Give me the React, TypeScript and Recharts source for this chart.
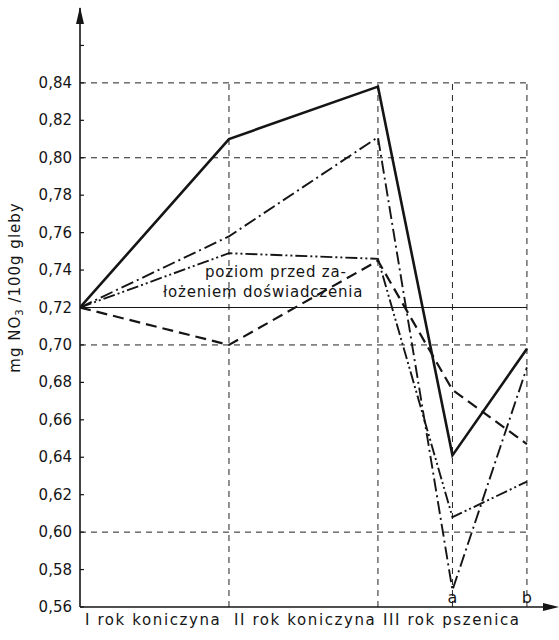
import React from "react";
import { LineChart, Line, XAxis, YAxis, ReferenceLine, ReferenceDot } from "recharts";

// positions along the x axis: I rok, II rok, III rok, then sub-points a and b
const xPositions = [0, 2, 4, 5, 6];
const solidSeries = [0.72, 0.81, 0.838, 0.641, 0.698];
const dashDotSeries = [0.72, 0.758, 0.811, 0.569, 0.688];
const dashDotDotSeries = [0.72, 0.749, 0.746, 0.608, 0.627];
const dashedSeries = [0.72, 0.7, 0.745, 0.676, 0.647];

const yTicks = [0.56, 0.58, 0.6, 0.62, 0.64, 0.66, 0.68, 0.7, 0.72, 0.74, 0.76, 0.78, 0.8, 0.82, 0.84, 0.86];
const labeledMax = 0.84;
const categoryTicks = [0, 2, 4];
const categoryLabels = ["I rok koniczyna", "II rok koniczyna", "III rok pszenica"];
const gridRows = [0.84, 0.8, 0.7, 0.6];
const gridCols = [2, 4, 5, 6];
const subPointX = [5, 6];
const subPointText = ["a", "b"];
const baseLevel = 0.72;
const baseLabelLines = ["poziom przed za-", "łożeniem doświadczenia"];

const FONT = "'DejaVu Sans', sans-serif";
const INK = "#151515";

const data = xPositions.map((x, i) => ({
  x,
  solid: solidSeries[i],
  dashDot: dashDotSeries[i],
  dashDotDot: dashDotDotSeries[i],
  dashed: dashedSeries[i],
}));

const YTick = (props: any) => {
  const { x, y, payload } = props;
  const v = payload.value as number;
  return (
    <g>
      <line x1={x} x2={x + 4} y1={y} y2={y} stroke={INK} strokeWidth={1.2} />
      {v <= labeledMax + 1e-9 && (
        <text x={x - 8} y={y} dy={5} textAnchor="end" fontSize={15} fill={INK} fontFamily={FONT}>
          {v.toFixed(2).replace(".", ",")}
        </text>
      )}
    </g>
  );
};

const XTick = (props: any) => {
  const { x, y, payload } = props;
  const idx = categoryTicks.indexOf(payload.value);
  return (
    <text x={x + 5} y={y + 18} textAnchor="start" fontSize={15} letterSpacing={1.6} fill={INK} fontFamily={FONT}>
      {categoryLabels[idx]}
    </text>
  );
};

const YTitle = (props: any) => {
  const { viewBox } = props;
  const cx = viewBox.x + 15;
  const cy = viewBox.y + viewBox.height / 2 - 20;
  return (
    <text
      x={cx}
      y={cy}
      transform={`rotate(-90 ${cx} ${cy})`}
      textAnchor="middle"
      dominantBaseline="central"
      fontSize={15}
      letterSpacing={1}
      fill={INK}
      fontFamily={FONT}
    >
      mg NO<tspan dy={4} fontSize={10}>3</tspan>
      <tspan dy={-4}> /100g gleby</tspan>
    </text>
  );
};

const BaseLabel = (props: any) => {
  const { viewBox } = props;
  return (
    <g fontSize={15} letterSpacing={0.8} fill={INK} fontFamily={FONT}>
      <text x={viewBox.x + 125} y={viewBox.y - 31}>{baseLabelLines[0]}</text>
      <text x={viewBox.x + 83} y={viewBox.y - 11}>{baseLabelLines[1]}</text>
    </g>
  );
};

const UpArrow = (props: any) => {
  const { cx, cy } = props;
  return <path d={`M${cx},${cy - 1} L${cx - 4},${cy + 16} L${cx + 4},${cy + 16} Z`} fill={INK} />;
};

const RightArrow = (props: any) => {
  const { cx, cy } = props;
  return <path d={`M${cx + 6},${cy} L${cx - 10},${cy - 4} L${cx - 10},${cy + 4} Z`} fill={INK} />;
};

const subLabel = (text: string) => (props: any) => {
  const { cx, cy } = props;
  return (
    <text x={cx} y={cy - 4} textAnchor="middle" fontSize={16} fill={INK} fontFamily={FONT}>
      {text}
    </text>
  );
};

export default function App() {
  return (
    <div style={{ position: "absolute", left: 0, top: 0, width: 559, height: 640, background: "#fff" }}>
      <LineChart width={559} height={640} data={data} margin={{ top: 8, right: 6, bottom: 0, left: 0 }}>
        <XAxis
          dataKey="x"
          type="number"
          domain={[0, 6.35]}
          allowDataOverflow
          ticks={categoryTicks}
          tick={<XTick />}
          tickLine={false}
          tickSize={0}
          tickMargin={0}
          height={33}
          axisLine={{ stroke: INK, strokeWidth: 1.6 }}
        />
        <YAxis
          type="number"
          domain={[0.56, 0.88]}
          allowDataOverflow
          ticks={yTicks}
          tick={<YTick />}
          tickLine={false}
          tickSize={0}
          tickMargin={0}
          width={80}
          interval={0}
          axisLine={{ stroke: INK, strokeWidth: 1.6 }}
          label={<YTitle />}
        />
        {gridRows.map((v) => (
          <ReferenceLine
            key={`r${v}`}
            segment={[{ x: 0, y: v }, { x: 6, y: v }]}
            stroke="#222"
            strokeWidth={1}
            strokeDasharray="6 5"
          />
        ))}
        {gridCols.map((v) => (
          <ReferenceLine
            key={`c${v}`}
            segment={[{ x: v, y: 0.56 }, { x: v, y: 0.84 }]}
            stroke="#222"
            strokeWidth={1}
            strokeDasharray="6 5"
          />
        ))}
        <ReferenceLine
          segment={[{ x: 0, y: baseLevel }, { x: 6, y: baseLevel }]}
          stroke={INK}
          strokeWidth={1.2}
          label={<BaseLabel />}
        />
        <Line type="linear" dataKey="dashed" stroke={INK} strokeWidth={2.2} strokeDasharray="11 6" dot={false} isAnimationActive={false} />
        <Line type="linear" dataKey="dashDotDot" stroke={INK} strokeWidth={1.9} strokeDasharray="12 3 2 3 2 3" dot={false} isAnimationActive={false} />
        <Line type="linear" dataKey="dashDot" stroke={INK} strokeWidth={1.9} strokeDasharray="13 4 2 4" dot={false} isAnimationActive={false} />
        <Line type="linear" dataKey="solid" stroke={INK} strokeWidth={2.6} dot={false} isAnimationActive={false} />
        {subPointX.map((x, i) => (
          <ReferenceDot key={`s${x}`} x={x} y={0.56} ifOverflow="visible" shape={subLabel(subPointText[i])} />
        ))}
        <ReferenceDot x={0} y={0.88} ifOverflow="visible" shape={<UpArrow />} />
        <ReferenceDot x={6.35} y={0.56} ifOverflow="visible" shape={<RightArrow />} />
      </LineChart>
    </div>
  );
}
